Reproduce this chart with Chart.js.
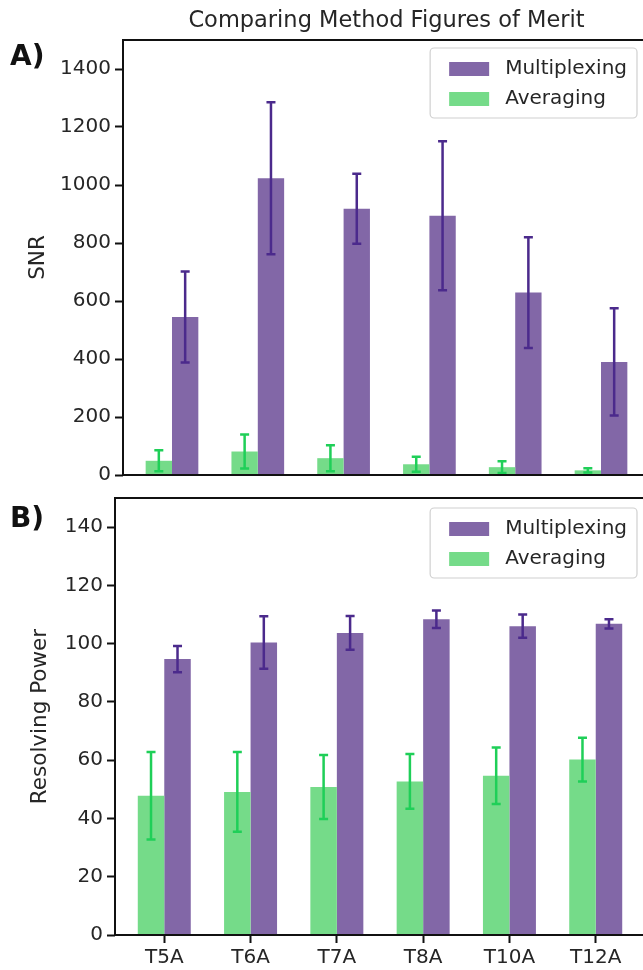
<!DOCTYPE html>
<html>
<head>
<meta charset="utf-8">
<script src="https://cdn.jsdelivr.net/npm/chart.js@4.4.0/dist/chart.umd.min.js"></script>
<style>
  html,
  body {
    margin: 0;
    padding: 0;
    background: #fff;
    overflow: hidden;
  }
  body {
    position: relative;
    width: 643px;
    height: 970px;
  }
  .panel {
    position: absolute;
    left: 0;
    width: 660px;
  }
  #panelA {
    top: 0;
    height: 491px;
  }
  #panelB {
    top: 480px;
    height: 490px;
  }
</style>
</head>
<body>
<div class="panel" id="panelA"><canvas id="snrChart"></canvas></div>
<div class="panel" id="panelB"><canvas id="rpChart"></canvas></div>
<script>
// Подписи категорий
const categories = ['T5A', 'T6A', 'T7A', 'T8A', 'T10A', 'T12A']

// A) SNR: средние значения и погрешности
const snrMultiplexing = [545, 1023, 918, 894, 629, 390]
const snrMultiplexingErr = [157, 262, 121, 257, 191, 185]
const snrAveraging = [49, 81, 58, 37, 27, 16]
const snrAveragingErr = [36, 59, 45, 26, 20, 7]

// B) Resolving Power: средние значения и погрешности
const rpMultiplexing = [94.7, 100.4, 103.7, 108.4, 106.0, 106.8]
const rpMultiplexingErr = [4.5, 9, 5.8, 3, 4, 1.6]
const rpAveraging = [47.8, 49.1, 50.8, 52.7, 54.7, 60.2]
const rpAveragingErr = [15, 13.7, 11, 9.4, 9.7, 7.5]

// Деления осей Y
const snrTicks = [0, 200, 400, 600, 800, 1000, 1200, 1400]
const rpTicks = [0, 20, 40, 60, 80, 100, 120, 140]

const purple = '#8267a7'
const purpleDark = '#4b2a8c'
const green = '#75db89'
const greenDark = '#1fcf58'
const textColor = '#262626'

Chart.defaults.font = {
  family: '"DejaVu Sans", sans-serif',
  size: 20,
  lineHeight: 1.2,
}
Chart.defaults.color = textColor

// Превратить массив значений в точки {x, y}
function toPoints(values) {
  return values.map((value, index) => ({ x: index, y: value }))
}

// Рамка вокруг области графика
const chartAreaBorder = {
  id: 'chartAreaBorder',
  afterDatasetsDraw(chart) {
    const {
      ctx,
      chartArea: { left, top, width, height },
    } = chart
    ctx.save()
    ctx.strokeStyle = '#111'
    ctx.lineWidth = 2
    ctx.strokeRect(left, top, width, height)
    ctx.restore()
  },
}

// Планки погрешностей поверх столбцов
const errorBars = {
  id: 'errorBars',
  afterDatasetsDraw(chart) {
    const { ctx } = chart
    const yScale = chart.scales.y
    chart.data.datasets.forEach((dataset, i) => {
      const meta = chart.getDatasetMeta(i)
      ctx.save()
      ctx.strokeStyle = dataset.errorColor
      ctx.lineWidth = 2.5
      meta.data.forEach((bar, j) => {
        const value = dataset.data[j].y
        const err = dataset.errors[j]
        const top = yScale.getPixelForValue(value + err)
        const bottom = yScale.getPixelForValue(value - err)
        ctx.beginPath()
        ctx.moveTo(bar.x, top)
        ctx.lineTo(bar.x, bottom)
        ctx.moveTo(bar.x - 4.5, top)
        ctx.lineTo(bar.x + 4.5, top)
        ctx.moveTo(bar.x - 4.5, bottom)
        ctx.lineTo(bar.x + 4.5, bottom)
        ctx.stroke()
      })
      ctx.restore()
    })
  },
}

// Легенда в рамке в правом верхнем углу
const boxLegend = {
  id: 'boxLegend',
  afterDraw(chart, args, options) {
    const { ctx, chartArea } = chart
    const items = [...chart.data.datasets].reverse()
    ctx.save()
    ctx.font = '20px "DejaVu Sans"'
    const textWidth = Math.max(
      ...items.map((item) => ctx.measureText(item.label).width)
    )
    const width = 75 + textWidth + 10
    const height = 70
    const x = chartArea.right - options.right - width
    const y = chartArea.top + options.top
    ctx.fillStyle = 'rgba(255,255,255,0.85)'
    ctx.strokeStyle = '#d0d0d0'
    ctx.lineWidth = 1.2
    ctx.beginPath()
    ctx.roundRect(x, y, width, height, 4)
    ctx.fill()
    ctx.stroke()
    items.forEach((item, i) => {
      const rowY = y + 21 + i * 30
      ctx.fillStyle = item.backgroundColor
      ctx.fillRect(x + 19, rowY - 7, 40, 14)
      ctx.fillStyle = textColor
      ctx.textBaseline = 'middle'
      ctx.fillText(item.label, x + 75, rowY)
    })
    ctx.restore()
  },
}

// Буква панели и заголовок
const panelText = {
  id: 'panelText',
  afterDraw(chart, args, options) {
    const { ctx, chartArea } = chart
    ctx.save()
    ctx.fillStyle = '#111'
    ctx.textBaseline = 'middle'
    ctx.font = 'bold 28px "DejaVu Sans"'
    ctx.fillText(options.letter, 10, options.letterY)
    if (options.title) {
      ctx.fillStyle = textColor
      ctx.font = '22.5px "DejaVu Sans"'
      ctx.textAlign = 'center'
      ctx.fillText(options.title, (chartArea.left + chartArea.right) / 2, 21)
    }
    ctx.restore()
  },
}

// Собрать график одной панели
function makeChart(canvas, panel) {
  return new Chart(canvas, {
    type: 'bar',
    data: {
      datasets: [
        {
          label: 'Averaging',
          data: toPoints(panel.averaging),
          errors: panel.averagingErr,
          backgroundColor: green,
          errorColor: greenDark,
        },
        {
          label: 'Multiplexing',
          data: toPoints(panel.multiplexing),
          errors: panel.multiplexingErr,
          backgroundColor: purple,
          errorColor: purpleDark,
        },
      ],
    },
    options: {
      responsive: true,
      maintainAspectRatio: false,
      animation: false,
      categoryPercentage: 0.614,
      barPercentage: 1,
      layout: { padding: panel.padding },
      plugins: {
        legend: { display: false },
        tooltip: { enabled: false },
        boxLegend: panel.legend,
        panelText: panel.text,
      },
      scales: {
        x: {
          type: 'linear',
          display: panel.showX,
          offset: false,
          bounds: 'data',
          min: -0.571,
          max: categories.length - 1 + 0.571,
          afterBuildTicks: (scale) => {
            scale.ticks = categories.map((c, i) => ({ value: i }))
          },
          afterFit: (scale) => {
            scale.height = panel.showX ? 35 : 0
          },
          ticks: {
            padding: 3,
            autoSkip: false,
            maxRotation: 0,
            callback: (value) => categories[value],
          },
          grid: {
            offset: false,
            drawOnChartArea: false,
            tickLength: 8,
            tickWidth: 2,
            tickColor: '#111',
          },
          border: { display: false },
        },
        y: {
          min: 0,
          max: panel.max,
          bounds: 'data',
          afterBuildTicks: (scale) => {
            scale.ticks = panel.ticks.map((value) => ({ value }))
          },
          afterFit: (scale) => {
            scale.width = panel.axisWidth
          },
          ticks: {
            padding: 4,
            callback: (value) => String(value),
          },
          grid: {
            drawOnChartArea: false,
            tickLength: 8,
            tickWidth: 2,
            tickColor: '#111',
          },
          border: { display: false },
          title: {
            display: true,
            text: panel.yTitle,
            font: { size: 21.5 },
            padding: { top: panel.titleOffset },
          },
        },
      },
    },
    plugins: [errorBars, chartAreaBorder, boxLegend, panelText],
  })
}

makeChart(document.getElementById('snrChart'), {
  averaging: snrAveraging,
  averagingErr: snrAveragingErr,
  multiplexing: snrMultiplexing,
  multiplexingErr: snrMultiplexingErr,
  max: 1500,
  ticks: snrTicks,
  yTitle: 'SNR',
  titleOffset: 26,
  axisWidth: 123,
  showX: false,
  padding: { left: 0, top: 40, right: 10, bottom: 6 },
  legend: { right: 13, top: 8 },
  text: {
    letter: 'A)',
    letterY: 58,
    title: 'Comparing Method Figures of Merit',
  },
})

makeChart(document.getElementById('rpChart'), {
  averaging: rpAveraging,
  averagingErr: rpAveragingErr,
  multiplexing: rpMultiplexing,
  multiplexingErr: rpMultiplexingErr,
  max: 150,
  ticks: rpTicks,
  yTitle: 'Resolving Power',
  titleOffset: 28,
  axisWidth: 115,
  showX: true,
  padding: { left: 0, top: 18, right: 15, bottom: 0 },
  legend: { right: 8, top: 10 },
  text: { letter: 'B)', letterY: 40 },
})
</script>
</body>
</html>
